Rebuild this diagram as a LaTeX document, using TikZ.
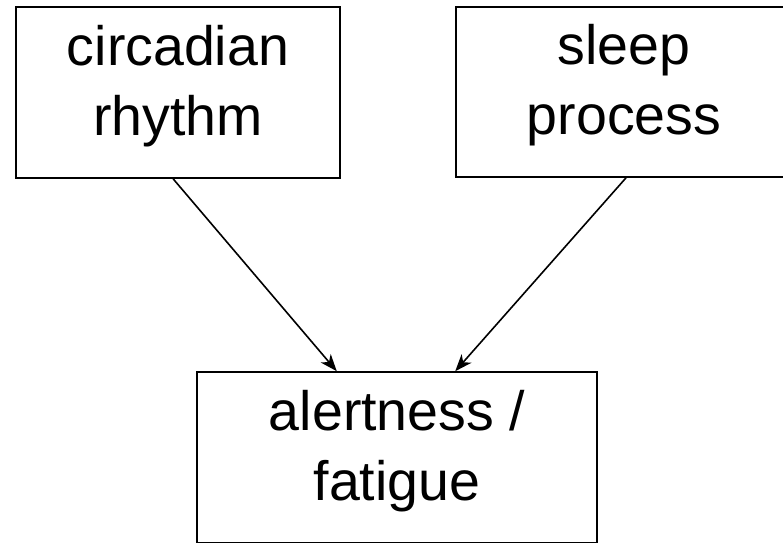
\documentclass[tikz,border=0pt]{standalone}
\usepackage{fontspec}
\setmainfont{Liberation Sans}
\usetikzlibrary{arrows.meta,calc}
\begin{document}
\begin{tikzpicture}[x=1pt,y=-1pt,
  box/.style={draw, line width=1.6pt, inner sep=0pt, align=center,
    text depth=25pt, font=\fontsize{55.5}{70}\selectfont},
  link/.style={line width=1.6pt, -{Stealth[length=17pt,width=13pt,inset=5pt]}}]
\useasboundingbox (0,0) rectangle (783,542);
\clip (0,0) rectangle (783,542);
% the two causes
\node[box, minimum width=324pt, minimum height=171pt] (rhythm) at (178,92.5) {circadian\\rhythm};
\node[box, minimum width=336pt, minimum height=170pt] (sleep) at (624,92) {sleep\\process};
% the effect, running past the lower edge
\node[box, minimum width=400pt, minimum height=171pt] (alert) at (397,457.5) {alertness /\\fatigue};
% influences
\draw[link] ($(rhythm.south west)!0.485!(rhythm.south east)$) -- ($(alert.north west)!0.35!(alert.north east)$);
\draw[link] ($(sleep.south west)!0.506!(sleep.south east)$) -- ($(alert.north west)!0.645!(alert.north east)$);
\end{tikzpicture}
\end{document}
